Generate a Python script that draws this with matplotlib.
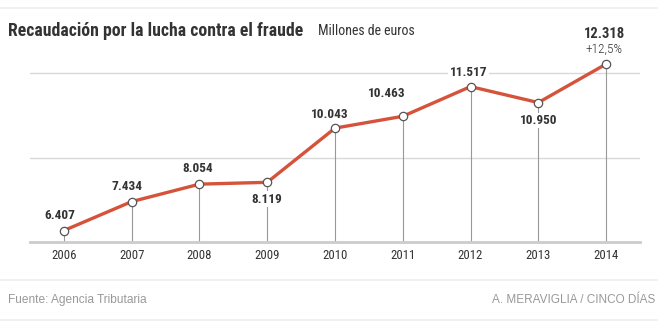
import matplotlib
matplotlib.use("Agg")
import matplotlib.pyplot as plt
from matplotlib.lines import Line2D

years = [2006, 2007, 2008, 2009, 2010, 2011, 2012, 2013, 2014]
values = [6407, 7434, 8054, 8119, 10043, 10463, 11517, 10950, 12318]
labels = ["6.407", "7.434", "8.054", "8.119", "10.043", "10.463", "11.517", "10.950", "12.318"]
label_below = [False, False, False, True, False, False, False, True, False]
label_offset_px = [15, 15, 16, 17, 14, 23, 14, 18, 30]
label_dx_px = [-4, -5, -2, 0, -5, -16, -2, 0, -2]
change_label = "+12,5%"
gridvals = [9000, 12000]

COND = ["Roboto Condensed", "DejaVu Sans"]
REG = ["Liberation Sans", "DejaVu Sans"]
plt.rcParams['font.family'] = COND

W, H = 664, 328
fig = plt.figure(figsize=(W/100, H/100), dpi=100)
fig.patch.set_facecolor("white")

ax = fig.add_axes([30/W, 1-242/H, 610/W, 202/H])
ax.set_xlim(2005.5, 2014.5)
ax.set_ylim(6000, 6000 + 202*3000/84.5)
for s in ["top", "right", "left"]:
    ax.spines[s].set_visible(False)
ax.spines["bottom"].set_color("#cccccc")
ax.spines["bottom"].set_linewidth(2)
ax.set_yticks([])
ax.set_xticks(years)
ax.set_xticklabels([str(y) for y in years])
ax.tick_params(axis="x", length=0, pad=5, labelsize=9.2, labelcolor="#333333")

for g in gridvals:
    ax.axhline(g, color="#d9d9d9", lw=1, zorder=0)

ax.vlines(years, 6000, values, color="#999999", lw=0.8, zorder=1)
ax.plot(years, values, color="#d6533b", lw=2.4, zorder=3, solid_capstyle="round")
ax.plot(years, values, ls="none", marker="o", ms=6, mfc="white", mec="#555555", mew=0.9, zorder=4)

for i, (x, v, t) in enumerate(zip(years, values, labels)):
    off = label_offset_px[i] * 0.72
    dx = label_dx_px[i] * 0.72
    if i == len(years) - 1:
        ax.annotate(t, (x, v), xytext=(dx, off), textcoords="offset points",
                    ha="center", va="center", fontsize=10.5, fontweight="bold", color="#333333", zorder=5)
        ax.annotate(change_label, (x, v), xytext=(dx, 14.5*0.72), textcoords="offset points",
                    ha="center", va="center", fontsize=9.5, fontweight="light", color="#333333", zorder=5)
    else:
        ax.annotate(t, (x, v), xytext=(dx, -off if label_below[i] else off), textcoords="offset points",
                    ha="center", va="center", fontsize=9.5, fontweight="bold", color="#333333",
                    bbox=dict(boxstyle="square,pad=0.1", fc="white", ec="none"), zorder=2)

# Title
fig.text(8/W, 1-31/H, "Recaudación por la lucha contra el fraude", fontsize=12.8,
         fontweight="bold", color="#333333", va="center", ha="left")
fig.text(318/W, 1-31/H, "Millones de euros", fontsize=10, color="#333333", va="center", ha="left")

# Footer
fig.text(8/W, 1-300/H, "Fuente: Agencia Tributaria", fontsize=8.6, color="#999999", va="center", ha="left", family=REG)
fig.text(655/W, 1-300/H, "A. MERAVIGLIA / CINCO DÍAS", fontsize=8.5, color="#999999", va="center", ha="right", family=REG)

for yy in [8, 280, 320]:
    fig.add_artist(Line2D([0, 657/W], [1-yy/H, 1-yy/H], color="#eeeeee", lw=1.2, transform=fig.transFigure))

fig.savefig("out.png", dpi=100, facecolor="white")
